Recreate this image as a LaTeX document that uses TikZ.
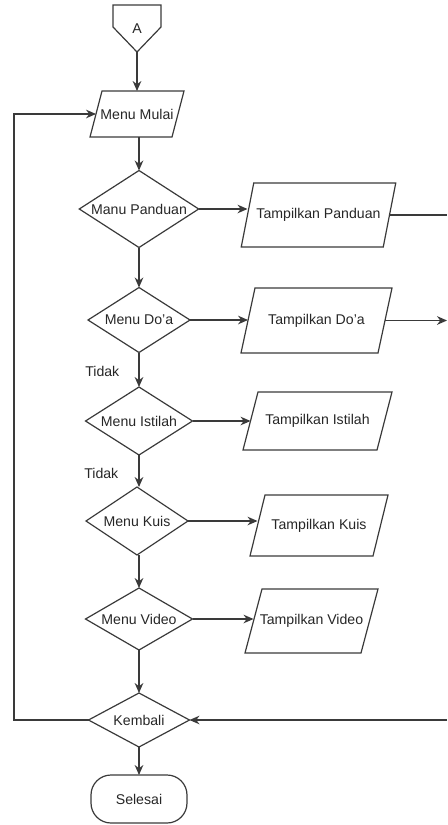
\documentclass[tikz,border=0pt]{standalone}
\usepackage{fontspec}
\setmainfont{Liberation Sans}
\usetikzlibrary{shapes.geometric,arrows.meta}
\newdimen\pxu \pxu=0.75pt
\definecolor{ink}{HTML}{3A3A3A}
\tikzset{
  base/.style={draw=ink, line width=0.9pt, outer sep=0pt, inner sep=1pt, font=\fontsize{10.6}{12}\selectfont, text=black!85},
  dec/.style={base, diamond, aspect=1.6},
  io/.style={base, draw=none, rectangle},
  term/.style={base, rectangle, rounded corners=15pt},
  conn/.style={draw=ink, line width=0.9pt, -{Stealth[length=7.5pt,width=6.5pt]}},
  plain/.style={draw=ink, line width=0.9pt},
  lbl/.style={font=\fontsize{10.6}{12}\selectfont, text=black!85, inner sep=0pt, anchor=west}
}
% draw a parallelogram around node #1 with horizontal slant #2 (in px)
\newcommand\paral[2]{\draw[draw=ink,line width=0.9pt]
  ([xshift=#2*0.375pt]#1.north west) -- ([xshift=#2*0.375pt]#1.north east) --
  ([xshift=-#2*0.375pt]#1.south east) -- ([xshift=-#2*0.375pt]#1.south west) -- cycle;}
\begin{document}
\begin{tikzpicture}[x=0.75pt,y=-0.75pt]
\useasboundingbox (0,0) rectangle (447,825);
% off-page connector A
\draw[draw=ink, line width=0.9pt] (113,5) -- (161,5) -- (161,27) -- (137,52) -- (113,27) -- cycle;
\node[lbl, anchor=center] (A) at (137,29) {A};
\coordinate (Atip) at (137,52);
% main column
\node[io, minimum width=82\pxu, minimum height=46\pxu] (mulai) at (137,114) {Menu Mulai};
\paral{mulai}{12}
\node[dec, minimum width=118\pxu, minimum height=77\pxu] (pand) at (139,209) {Manu Panduan};
\node[dec, minimum width=102\pxu, minimum height=65\pxu] (doa) at (139,320) {Menu Do'a};
\node[dec, minimum width=107\pxu, minimum height=68\pxu] (ist) at (139,421) {Menu Istilah};
\node[dec, minimum width=102\pxu, minimum height=68\pxu] (kuis) at (137,521) {Menu Kuis};
\node[dec, minimum width=107\pxu, minimum height=62\pxu] (video) at (139,619) {Menu Video};
\node[dec, minimum width=101\pxu, minimum height=54\pxu] (kembali) at (139,720) {Kembali};
\node[term, minimum width=96\pxu, minimum height=48\pxu] (selesai) at (139,799) {Selesai};
% right column
\node[io, minimum width=142\pxu, minimum height=64\pxu] (tpand) at (318.5,215) {Tampilkan Panduan};
\paral{tpand}{12.5}
\node[io, minimum width=137\pxu, minimum height=65\pxu] (tdoa) at (316.5,320.5) {Tampilkan Do'a};
\paral{tdoa}{14}
\node[io, minimum width=134\pxu, minimum height=58\pxu] (tist) at (317.5,421) {Tampilkan Istilah};
\paral{tist}{15}
\node[io, minimum width=123\pxu, minimum height=61\pxu] (tkuis) at (319,525.5) {Tampilkan Kuis};
\paral{tkuis}{15}
\node[io, minimum width=116\pxu, minimum height=64\pxu] (tvideo) at (311.5,621) {Tampilkan Video};
\paral{tvideo}{17}
% labels
\node[lbl] (t1) at (85,371) {Tidak};
\node[lbl] (t2) at (84,473) {Tidak};
% edge coordinates
\coordinate (rp) at (447,215);
\coordinate (rd) at (447,320.5);
\coordinate (rk) at (447,720);
\coordinate (lk) at (14,720);
% connectors
\draw[conn] (Atip) -- (mulai);
\draw[conn] (mulai.south -| pand.north) -- (pand.north);
\draw[conn] (pand) -- (doa);
\draw[conn] (doa) -- (ist);
\draw[conn] (ist.south) -- (ist.south |- kuis.north);
\draw[conn] (kuis.south -| video.north) -- (video.north);
\draw[conn] (video) -- (kembali);
\draw[conn] (kembali) -- (selesai);
\draw[conn] (pand.east) -- (pand.east -| tpand.west);
\draw[conn] (doa.east) -- (doa.east -| tdoa.west);
\draw[conn] (ist.east) -- (ist.east -| tist.west);
\draw[conn] (kuis.east) -- (kuis.east -| tkuis.west);
\draw[conn] (video.east) -- (video.east -| tvideo.west);
\draw[plain] (tpand.east) -- (rp);
\draw[conn] (tdoa.east) -- (rd);
\draw[conn] (rk) -- (kembali.east);
\draw[conn] (kembali.west) -- (lk) |- (mulai.west);
\end{tikzpicture}
\end{document}
